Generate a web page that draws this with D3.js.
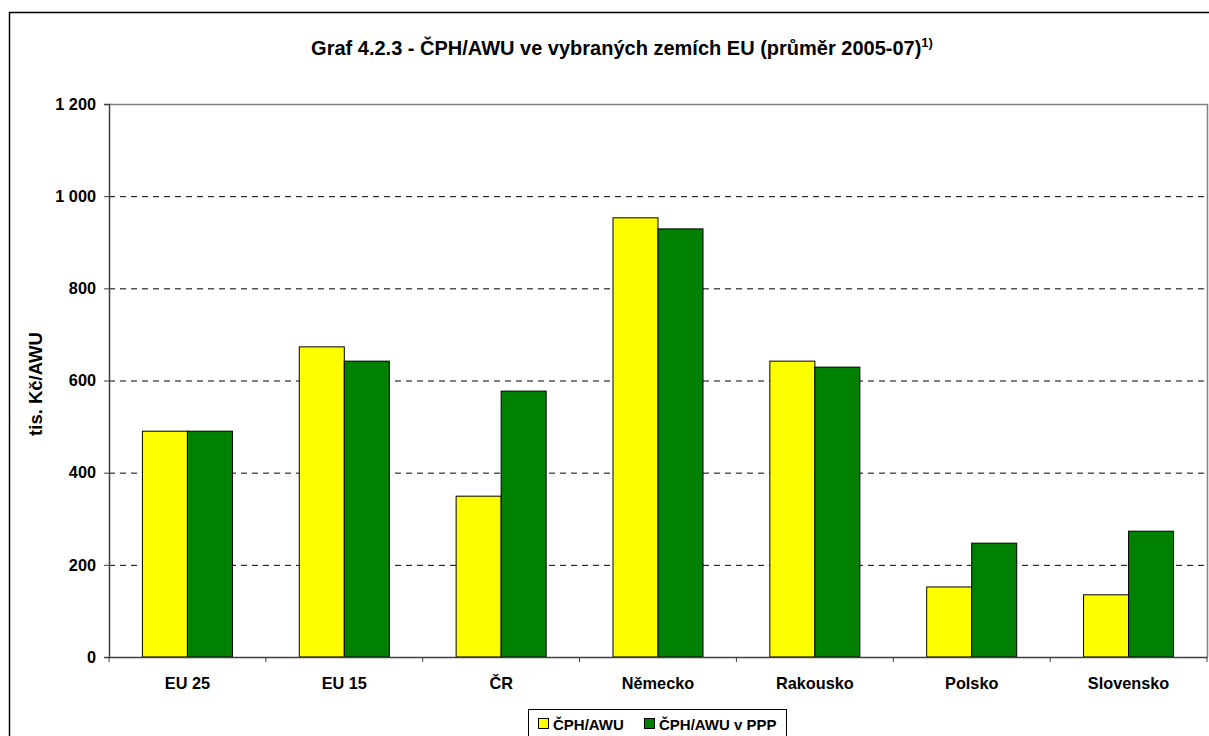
<!DOCTYPE html>
<html><head><meta charset="utf-8">
<script src="https://cdn.jsdelivr.net/npm/d3@7"></script>
<style>body{margin:0;background:#fff}svg{display:block;font-family:"Liberation Sans",Arial,sans-serif}</style>
</head><body>
<script>
const categories = ["EU 25","EU 15","ČR","Německo","Rakousko","Polsko","Slovensko"];
const seriesNames = ["ČPH/AWU","ČPH/AWU v PPP"];
const cphAwu = [490, 673, 349, 953, 642, 152, 135];
const cphAwuPpp = [490, 642, 577, 929, 629, 247, 273];
const yTicks = [0,200,400,600,800,1000,1200];
const yTickLabels = ["0","200","400","600","800","1 000","1 200"];
const colors = ["#ffff00","#008000"];

const W=1209,H=736;
const FF="Liberation Sans,Arial,sans-serif";
const svg=d3.select("body").append("svg").attr("width",W).attr("height",H);
svg.append("rect").attr("x",9.5).attr("y",12.5).attr("width",W+10).attr("height",H+10).attr("fill","#fff").attr("stroke","#000").attr("stroke-width",1.5);

const L=109,R=1207,T=104,B=657;
const x=d3.scaleBand().domain(categories).range([L,R]).paddingInner(0.426).paddingOuter(0.213);
const xs=d3.scaleBand().domain(seriesNames).range([0,x.bandwidth()]);
const y=d3.scaleLinear().domain([0,1200]).range([B,T]);

// grid
svg.append("g").selectAll("line").data(yTicks.filter(d=>d>0&&d<1200)).join("line")
  .attr("x1",L).attr("x2",R).attr("y1",d=>y(d)+0.5).attr("y2",d=>y(d)+0.5)
  .attr("stroke","#000").attr("stroke-dasharray","6,5").attr("stroke-width",1);
// plot border top/right
svg.append("path").attr("d",`M${L},${T+0.5}H${R+0.5}V${B}`).attr("fill","none").attr("stroke","#808080").attr("stroke-width",1.5);

const data=categories.map((c,i)=>({c,vals:[cphAwu[i],cphAwuPpp[i]]}));
const g=svg.append("g").selectAll("g").data(data).join("g").attr("transform",d=>`translate(${x(d.c)},0)`);
g.selectAll("rect").data(d=>d.vals.map((v,j)=>({v,s:seriesNames[j],j}))).join("rect")
  .attr("x",d=>xs(d.s)).attr("width",xs.bandwidth()).attr("y",d=>y(d.v)).attr("height",d=>B-y(d.v))
  .attr("fill",d=>colors[d.j]).attr("stroke","#000").attr("stroke-width",1);

// y axis
const ya=svg.append("g").attr("transform",`translate(${L},0)`)
  .call(d3.axisLeft(y).tickValues(yTicks).tickFormat((d,i)=>yTickLabels[i]).tickSize(5).tickPadding(8));
ya.select(".domain").attr("stroke","#404040").attr("stroke-width",1.5);
ya.selectAll(".tick line").attr("stroke","#404040");
ya.selectAll("text").attr("font-size",16.3).attr("font-weight","bold").attr("fill","#000").attr("font-family",FF);

// x axis
const xa=svg.append("g").attr("transform",`translate(0,${B})`)
  .call(d3.axisBottom(x).tickSize(0).tickPadding(20));
xa.select(".domain").attr("stroke","#404040").attr("stroke-width",1.5);
xa.selectAll("text").attr("font-size",16.3).attr("font-weight","bold").attr("fill","#000").attr("font-family",FF);
// category separators
svg.append("g").selectAll("line").data(d3.range(categories.length+1)).join("line")
  .attr("x1",d=>L+d*(R-L)/categories.length).attr("x2",d=>L+d*(R-L)/categories.length)
  .attr("y1",B).attr("y2",B+5).attr("stroke","#404040");

// title
const t=svg.append("text").attr("x",622).attr("y",55).attr("text-anchor","middle")
  .attr("font-size",20).attr("font-weight","bold");
t.append("tspan").text("Graf 4.2.3 - ČPH/AWU ve vybraných zemích EU (průměr 2005-07)");
t.append("tspan").attr("dy",-8).attr("font-size",13).text("1)");

// y label
svg.append("text").attr("transform",`translate(41.5,384) rotate(-90)`).attr("text-anchor","middle")
  .attr("font-size",18.5).attr("font-weight","bold").text("tis. Kč/AWU");

// legend
const lg=svg.append("g");
lg.append("rect").attr("x",528.5).attr("y",709.5).attr("width",258).attr("height",40).attr("fill","#fff").attr("stroke","#000");
const items=[{x:538,n:seriesNames[0],c:colors[0]},{x:644,n:seriesNames[1],c:colors[1]}];
items.forEach(it=>{
  lg.append("rect").attr("x",it.x+0.5).attr("y",718.5).attr("width",10).attr("height",10).attr("fill",it.c).attr("stroke","#000");
  lg.append("text").attr("x",it.x+15).attr("y",729.5).attr("font-size",15).attr("font-weight","bold").text(it.n);
});
</script>
</body></html>
